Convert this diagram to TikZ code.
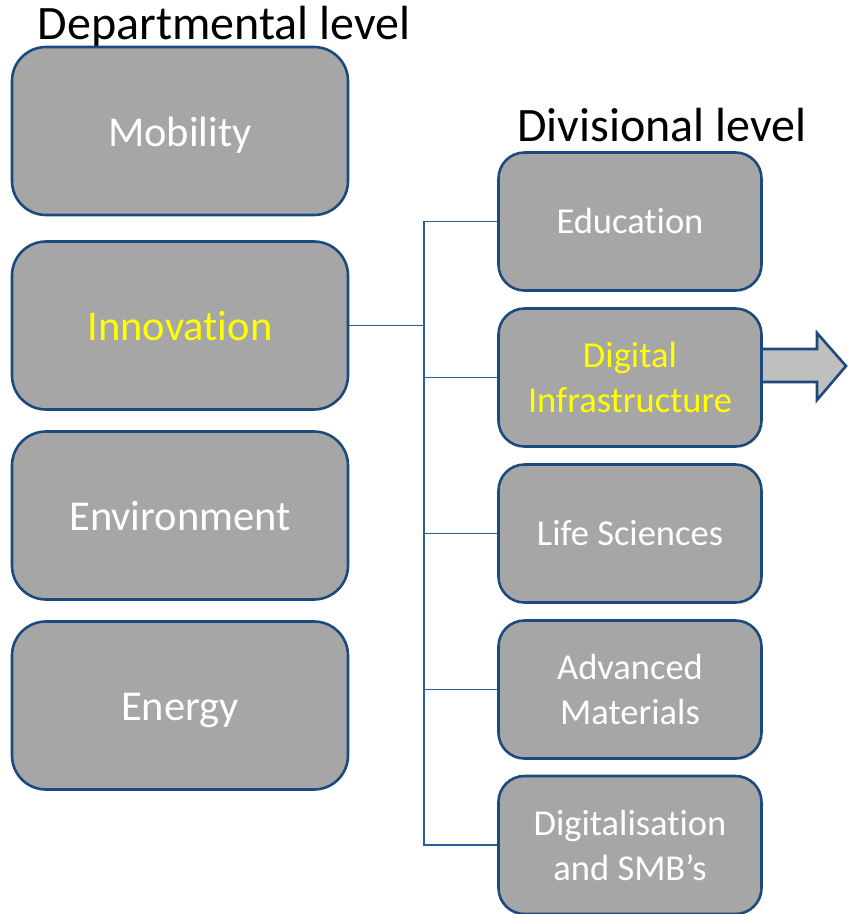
\documentclass[tikz,border=0pt]{standalone}
\usepackage{fontspec}
\setmainfont[Ligatures={NoCommon}]{Carlito}
\definecolor{bordblue}{HTML}{1C4A7E}
\definecolor{connblue}{HTML}{2B5C9E}
\definecolor{boxgray}{HTML}{A6A6A6}
\definecolor{arrgray}{HTML}{BFBFBF}
\definecolor{hiyellow}{HTML}{FFFF00}
\tikzset{
  dbox/.style={draw=bordblue, fill=boxgray, line width=2.6pt, rounded corners=34pt,
    minimum width=336pt, minimum height=168pt, inner sep=0pt, align=center,
    text height=32pt, text depth=2pt,
    text=white, font=\fontsize{42.5}{50}\selectfont},
  vbox/.style={draw=bordblue, fill=boxgray, line width=2.6pt, rounded corners=26pt,
    minimum width=263pt, minimum height=138pt, inner sep=0pt, align=center,
    text=white, font=\fontsize{36.5}{45}\selectfont},
  oneline/.style={text height=27pt, text depth=3pt},
  conn/.style={draw=connblue, line width=1.5pt},
  title/.style={anchor=base, inner sep=0pt, font=\fontsize{48}{52}\selectfont}
}
\begin{document}
\begin{tikzpicture}[x=1pt,y=-1pt]
\useasboundingbox (0,0) rectangle (848,914);
\node[title] (tdep) at (224,39) {Departmental level};
\node[title] (tdiv) at (662,141) {Divisional level};
% arrow
\draw[draw=bordblue, fill=arrgray, line width=2.6pt, line join=miter]
  (755,349) -- (817,349) -- (817,333) -- (846,366) -- (817,400) -- (817,382) -- (755,382) -- cycle;
% departmental boxes
\node[dbox] (mob) at (180,131) {Mobility};
\node[dbox, text=hiyellow] (inno) at (180,325.5) {Innovation};
\node[dbox] (env) at (180,515.5) {Environment};
\node[dbox] (ene) at (180,705.5) {Energy};
% divisional boxes
\node[vbox, oneline] (edu) at (630,221.5) {Education};
\node[vbox, text=hiyellow] (dig) at (630,377.5) {Digital\\Infrastructure};
\node[vbox, oneline] (life) at (630,533.5) {Life Sciences};
\node[vbox] (adv) at (630,689.5) {Advanced\\Materials};
\node[vbox] (dsmb) at (630,845) {Digitalisation\\and SMB’s};
% connectors
\draw[conn] (inno.east) -- (424,325.5) coordinate (j);
\draw[conn] (edu.west) -| (j);
\draw[conn] (j) |- (dsmb.west);
\draw[conn] (dig.west) -- (dig.west -| j);
\draw[conn] (life.west) -- (life.west -| j);
\draw[conn] (adv.west) -- (adv.west -| j);
\end{tikzpicture}
\end{document}
